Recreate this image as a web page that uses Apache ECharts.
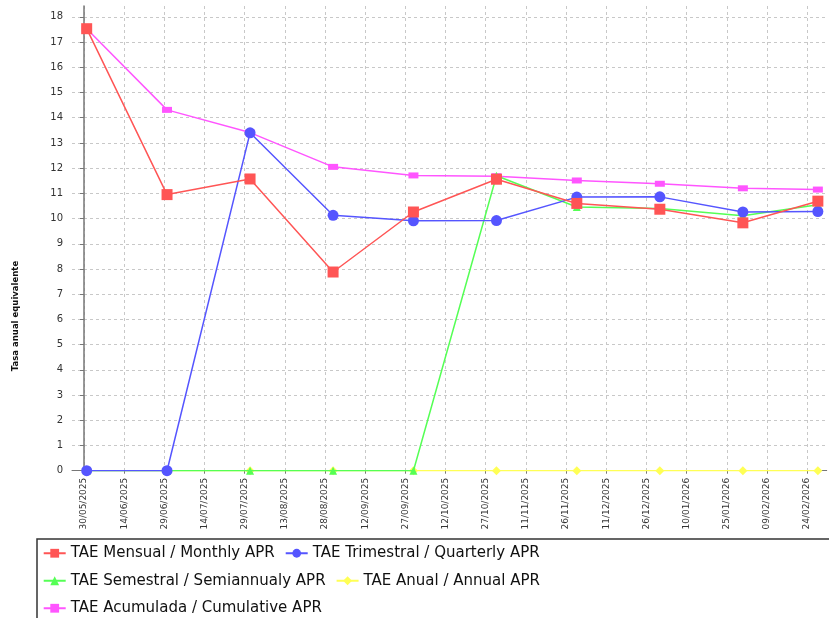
<!DOCTYPE html>
<html>
<head>
<meta charset="utf-8">
<script src="https://cdn.jsdelivr.net/npm/echarts@6/dist/echarts.min.js"></script>
<style>
html,body{margin:0;padding:0;background:#fff;}
#chart{width:829px;height:618px;}
</style>
</head>
<body>
<div id="chart"></div>
<script>
// ---- Data ----
const dates = ['2025-05-31','2025-06-30','2025-07-31','2025-08-31','2025-09-30','2025-10-31','2025-11-30','2025-12-31','2026-01-31','2026-02-28'];
const monthly    = [17.53, 10.95, 11.57, 7.88, 10.26, 11.56, 10.60, 10.37, 9.83, 10.69];
const quarterly  = [0, 0, 13.40, 10.13, 9.91, 9.92, 10.85, 10.86, 10.26, 10.28];
const semiannual = [0, 0, 0, 0, 0, 11.70, 10.46, 10.40, 10.11, 10.55];
const annual     = [0, 0, 0, 0, 0, 0, 0, 0, 0, 0];
const cumulative = [17.53, 14.31, 13.41, 12.05, 11.71, 11.68, 11.51, 11.38, 11.20, 11.15];
const seriesNames = ['TAE Mensual / Monthly APR','TAE Trimestral / Quarterly APR','TAE Semestral / Semiannualy APR','TAE Anual / Annual APR','TAE Acumulada / Cumulative APR'];
const tickFirst = '2025-05-30';   // first x tick label
const tickLast  = '2026-02-24';   // last x tick label
const tickStepDays = 15;
const xRangeStart = '2025-05-25'; // axis extent (approx.)
const yTitle = 'Tasa anual equivalente';

// ---- Helpers ----
const DAY = 86400000;
function utc(s){const p=s.split('-').map(Number);return Date.UTC(p[0],p[1]-1,p[2]);}
const origin = utc(tickFirst);
function dayOf(s){return (utc(s)-origin)/DAY;}
function fmt(v){
  const d = new Date(origin + Math.round(v)*DAY);
  const dd = String(d.getUTCDate()).padStart(2,'0');
  const mm = String(d.getUTCMonth()+1).padStart(2,'0');
  return dd+'/'+mm+'/'+d.getUTCFullYear();
}
function pts(vals){return dates.map((d,i)=>[dayOf(d), vals[i]]);}

// layout
const GL = 72, GT = 6, GW = 754.7, GH = 464.7;
const xMin = -4.48, xMax = 277.3;
const pxPerDay = GW / (xMax - xMin);
const lastTick = dayOf(tickLast);

const colors = ['#ff5555','#5555ff','#55ff55','#ffff55','#ff55ff'];
const symbols = ['rect','circle','triangle','diamond','rect'];
const sizes = [11, 11, 8, 9, [10,6]];
const values = [monthly, quarterly, semiannual, annual, cumulative];
const zs = [10, 9, 8, 7, 6];

const series = values.map((v,i)=>({
  name: seriesNames[i],
  type: 'line',
  xAxisIndex: 0, yAxisIndex: 0,
  data: pts(v),
  symbol: symbols[i],
  symbolSize: sizes[i],
  showAllSymbol: true,
  itemStyle: {color: colors[i]},
  lineStyle: {color: colors[i], width: 1.5},
  z: zs[i],
  clip: true,
  animation: false,
  emphasis: {disabled: true}
}));

const gridLine = {type: [3,3], color: '#c8c8c8', width: 1};

const chart = echarts.init(document.getElementById('chart'), null, {renderer:'canvas'});
chart.setOption({
  backgroundColor: '#ffffff',
  animation: false,
  textStyle: {fontFamily: 'DejaVu Sans'},
  grid: [
    {left: GL, top: GT, width: GW, height: GH, containLabel: false, outerBoundsMode: 'none'},
    {left: GL + (0 - xMin) * pxPerDay, top: GT, width: (lastTick - 0) * pxPerDay, height: GH, containLabel: false, outerBoundsMode: 'none'}
  ],
  xAxis: [
    { // data axis
      gridIndex: 0, type: 'value', min: xMin, max: xMax,
      axisLine: {show: true, onZero: false, lineStyle: {color: '#777', width: 1}},
      axisTick: {show: false}, splitLine: {show: false}, axisLabel: {show: false}
    },
    { // tick axis (same day scale)
      gridIndex: 1, type: 'value', min: 0, max: lastTick, interval: tickStepDays,
      axisLine: {show: false, onZero: false},
      axisTick: {show: true, length: 3, lineStyle: {color: '#777'}},
      splitLine: {show: true, lineStyle: gridLine},
      axisLabel: {rotate: 90, fontSize: 9, margin: 7, color: '#333', showMinLabel: true, showMaxLabel: true, formatter: fmt}
    }
  ],
  yAxis: [
    {
      gridIndex: 0, type: 'value', min: 0, max: 18.43, interval: 1,
      axisLine: {show: true, lineStyle: {color: '#777', width: 1.5}},
      axisTick: {show: true, length: 4, lineStyle: {color: '#777'}},
      splitLine: {show: true, showMaxLine: false, lineStyle: gridLine},
      axisLabel: {fontSize: 10, margin: 9, color: '#333', showMaxLabel: false}
    },
    {
      gridIndex: 1, type: 'value', min: 0, max: 18.43,
      axisLine: {show: false}, axisTick: {show: false}, splitLine: {show: false}, axisLabel: {show: false}
    }
  ],
  legend: {
    left: 42.7, top: 544.5, width: 600, padding: 0,
    itemWidth: 22, itemHeight: 11, itemGap: 10,
    textStyle: {fontSize: 15, color: '#111', lineHeight: 17.5},
    selectedMode: false,
    data: seriesNames
  },
  graphic: [
    {type: 'rect', shape: {x: 37, y: 539, width: 830, height: 100}, style: {fill: 'none', stroke: '#333', lineWidth: 1.5}, silent: true},
    {type: 'text', x: 16, y: 316, rotation: Math.PI/2,
     style: {text: yTitle, font: 'bold 8.5px "DejaVu Sans"', fill: '#111', align: 'center', verticalAlign: 'middle', textAlign: 'center', textVerticalAlign: 'middle'}, silent: true}
  ],
  series: series
});
</script>
</body>
</html>
